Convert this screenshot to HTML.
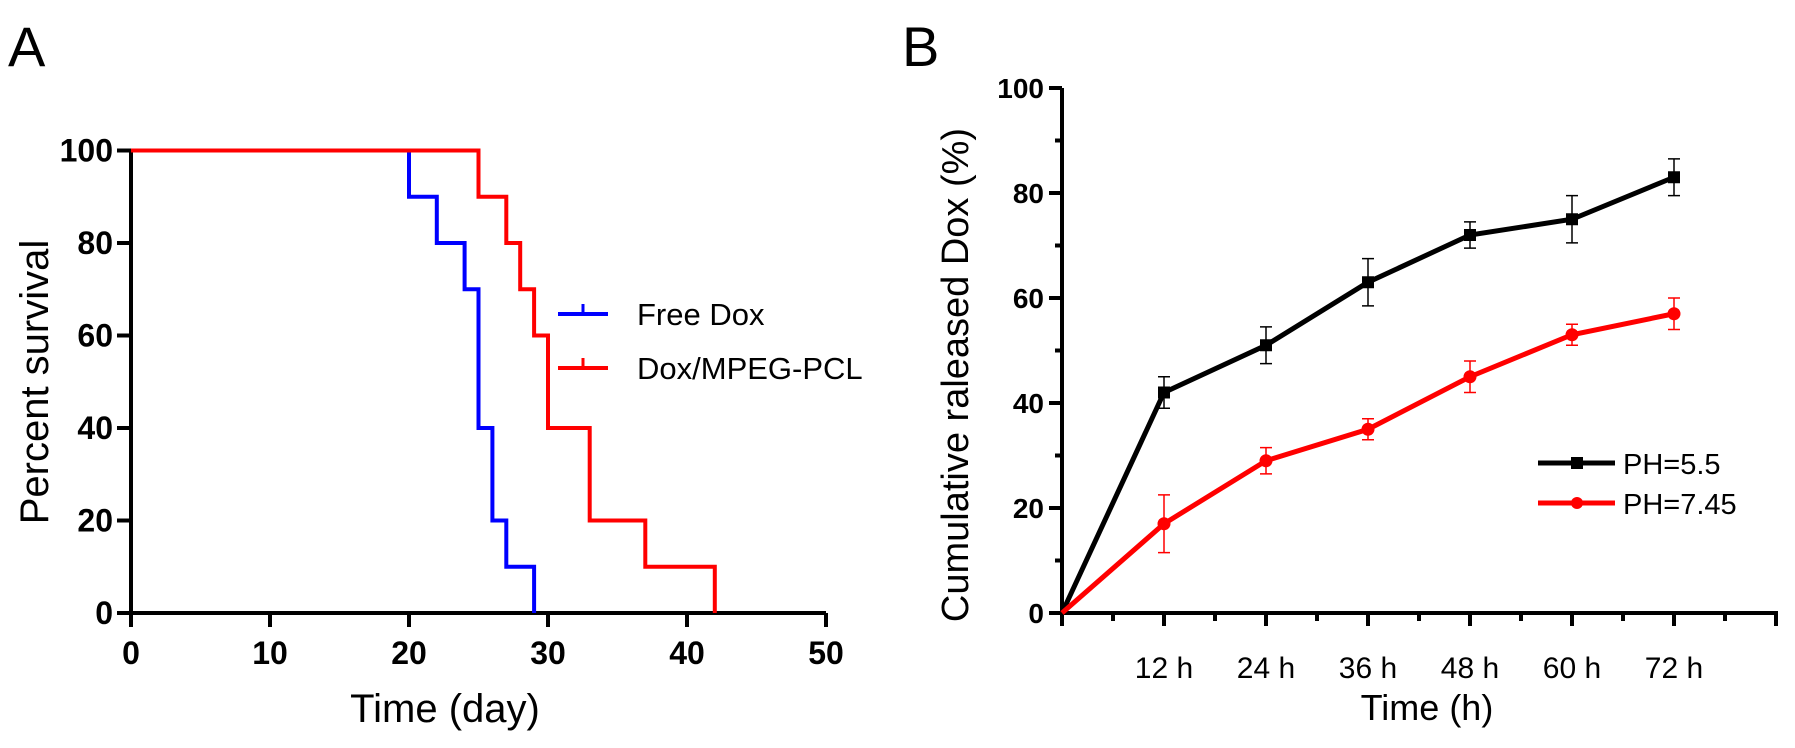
<!DOCTYPE html>
<html><head><meta charset="utf-8"><style>
html,body{margin:0;padding:0;background:#fff;}
svg{display:block;font-family:"Liberation Sans",Arial,sans-serif;}
</style></head><body>
<svg width="1795" height="748" viewBox="0 0 1795 748" id="fig">
<text x="8" y="66" font-size="56">A</text>
<text x="902" y="66" font-size="56">B</text>
<g id="pa"></g>
<g id="pb"></g>
</svg>
<script>
// Panel A data
const aXTicks=[0,10,20,30,40,50];
const aYTicks=[0,20,40,60,80,100];
const freeDoxTimes=[0,20,22,24,25,26,27,29];
const freeDoxSurv=[100,90,80,70,40,20,10,0];
const polyTimes=[0,25,27,28,29,30,33,37,42];
const polySurv=[100,90,80,70,60,40,20,10,0];
// Panel B data
const bHours=[0,12,24,36,48,60,72];
const bTickLabels=["12 h","24 h","36 h","48 h","60 h","72 h"];
const bTickHours=[12,24,36,48,60,72];
const bYTicks=[0,20,40,60,80,100];
const ph55=[0,42,51,63,72,75,83];
const ph55Err=[0,3,3.5,4.5,2.5,4.5,3.5];
const ph745=[0,17,29,35,45,53,57];
const ph745Err=[0,5.5,2.5,2,3,2,3];

const NS="http://www.w3.org/2000/svg";
function mk(parent,tag,attrs,text){const e=document.createElementNS(NS,tag);for(const k in attrs)e.setAttribute(k,attrs[k]);if(text!==undefined)e.textContent=text;parent.appendChild(e);return e;}

// ---- Panel A ----
const pa=document.getElementById('pa');
const ax=v=>131+v*13.9, ay=v=>613-v*4.625;
let e;
e=mk(pa,'line',{x1:ax(0),y1:ay(0),x2:ax(50),y2:ay(0),stroke:'#000','stroke-width':4});


e=mk(pa,'line',{x1:ax(0),y1:ay(0)+2,x2:ax(0),y2:ay(100),stroke:'#000','stroke-width':4});


aXTicks.forEach(t=>{
  mk(pa,'line',{x1:ax(t),y1:ay(0),x2:ax(t),y2:ay(0)+14,stroke:'#000','stroke-width':4});
  e=mk(pa,'text',{x:ax(t),y:664,'font-size':32,'font-weight':'bold','text-anchor':'middle'},String(t));
  
  
});
aYTicks.forEach(t=>{
  mk(pa,'line',{x1:ax(0)-14,y1:ay(t),x2:ax(0),y2:ay(t),stroke:'#000','stroke-width':4});
  e=mk(pa,'text',{x:ax(0)-18,y:ay(t)+11,'font-size':32,'font-weight':'bold','text-anchor':'end'},String(t));
  
  
});
e=mk(pa,'text',{x:445,y:722,'font-size':40,'text-anchor':'middle'},'Time (day)');


e=mk(pa,'text',{x:0,y:0,'font-size':40,'text-anchor':'middle',transform:'translate(48,382) rotate(-90)'},'Percent survival');


function stepPath(ts,vs){let d='M'+ax(ts[0])+','+ay(vs[0]);for(let i=1;i<ts.length;i++){d+=' H'+ax(ts[i])+' V'+ay(vs[i]);}return d;}
e=mk(pa,'path',{d:stepPath(freeDoxTimes,freeDoxSurv),fill:'none',stroke:'#0000ff','stroke-width':4});


e=mk(pa,'path',{d:stepPath(polyTimes,polySurv),fill:'none',stroke:'#ff0000','stroke-width':4});


[[314,'#0000ff','Free Dox','legend-free-dox'],[368,'#ff0000','Dox/MPEG-PCL','legend-dox-mpeg-pcl']].forEach(([y,c,t,n])=>{
  const g=mk(pa,'g',{});
  
  
  mk(g,'line',{x1:558,y1:y,x2:608,y2:y,stroke:c,'stroke-width':4});
  mk(g,'line',{x1:583,y1:y-10,x2:583,y2:y,stroke:c,'stroke-width':3});
  mk(g,'text',{x:637,y:y+11,'font-size':31},t);
});

// ---- Panel B ----
const pb=document.getElementById('pb');
const bx=v=>1062+v*8.5, by=v=>613-v*5.25;
e=mk(pb,'line',{x1:bx(0),y1:by(0),x2:bx(84)+2,y2:by(0),stroke:'#000','stroke-width':4});


e=mk(pb,'line',{x1:bx(0),y1:by(0)+2,x2:bx(0),y2:by(100),stroke:'#000','stroke-width':4});


for(let h=0;h<=84;h+=6){const major=(h%12===0);mk(pb,'line',{x1:bx(h),y1:by(0),x2:bx(h),y2:by(0)+(major?13:8),stroke:'#000','stroke-width':4});}
for(let v=0;v<=100;v+=10){const major=(v%20===0);mk(pb,'line',{x1:bx(0)-(major?13:7),y1:by(v),x2:bx(0),y2:by(v),stroke:'#000','stroke-width':4});}
bTickHours.forEach((h,i)=>{
  e=mk(pb,'text',{x:bx(h),y:678,'font-size':30,'text-anchor':'middle'},bTickLabels[i]);
  
  
});
bYTicks.forEach(t=>{
  e=mk(pb,'text',{x:bx(0)-18,y:by(t)+10,'font-size':28,'font-weight':'bold','text-anchor':'end'},String(t));
  
  
});
e=mk(pb,'text',{x:1427,y:720,'font-size':36,'text-anchor':'middle'},'Time  (h)');


e=mk(pb,'text',{x:0,y:0,'font-size':38,'text-anchor':'middle',transform:'translate(968,375) rotate(-90)'},'Cumulative  raleased Dox (%)');


function series(vals,errs,color,name,marker){
  const g=mk(pb,'g',{});
  
  
  vals.forEach((v,i)=>{if(errs[i]>0){const x=bx(bHours[i]);
    mk(g,'line',{x1:x,y1:by(v-errs[i]),x2:x,y2:by(v+errs[i]),stroke:color,'stroke-width':1.5});
    mk(g,'line',{x1:x-6,y1:by(v-errs[i]),x2:x+6,y2:by(v-errs[i]),stroke:color,'stroke-width':1.5});
    mk(g,'line',{x1:x-6,y1:by(v+errs[i]),x2:x+6,y2:by(v+errs[i]),stroke:color,'stroke-width':1.5});}});
  mk(g,'polyline',{points:vals.map((v,i)=>bx(bHours[i])+','+by(v)).join(' '),fill:'none',stroke:color,'stroke-width':5});
  vals.forEach((v,i)=>{if(i===0)return;const x=bx(bHours[i]),y=by(v);
    if(marker==='sq')mk(g,'rect',{x:x-6,y:y-6,width:12,height:12,fill:color});
    else mk(g,'circle',{cx:x,cy:y,r:6.5,fill:color});});
}
series(ph55,ph55Err,'#000000','series-ph-5-5','sq');
series(ph745,ph745Err,'#ff0000','series-ph-7-45','ci');
[[463,'#000','PH=5.5','legend-ph-5-5','sq'],[503,'#ff0000','PH=7.45','legend-ph-7-45','ci']].forEach(([y,c,t,n,m])=>{
  const g=mk(pb,'g',{});
  
  
  mk(g,'line',{x1:1538,y1:y,x2:1615,y2:y,stroke:c,'stroke-width':5});
  if(m==='sq')mk(g,'rect',{x:1571,y:y-6,width:12,height:12,fill:c});else mk(g,'circle',{cx:1577,cy:y,r:6,fill:c});
  mk(g,'text',{x:1623,y:y+11,'font-size':29},t);
});
</script>
</body></html>
